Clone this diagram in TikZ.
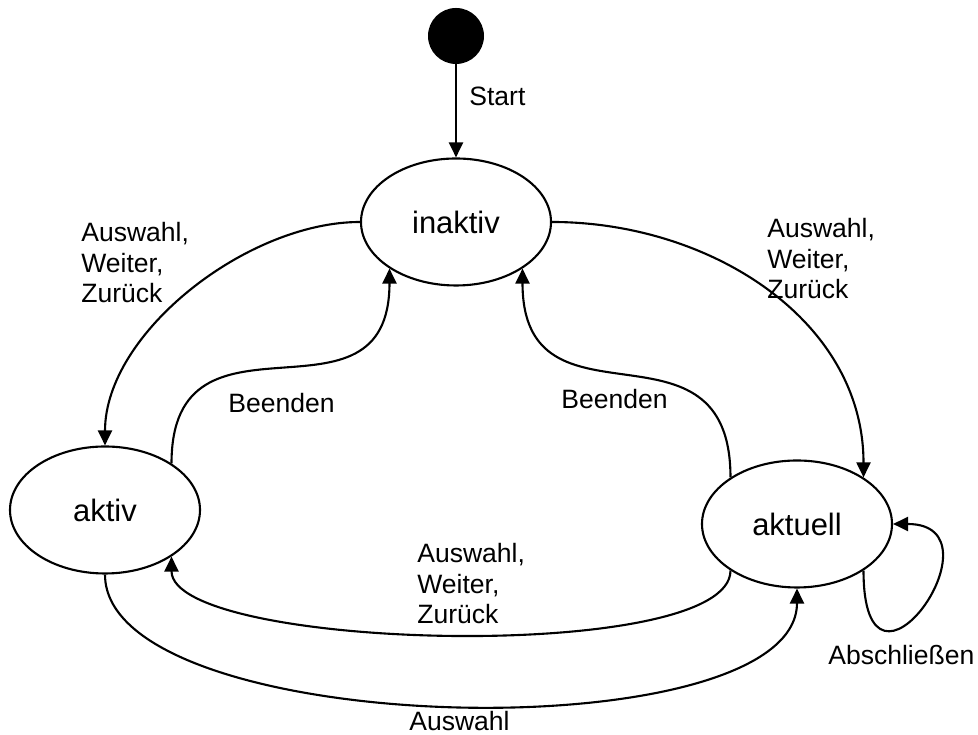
\documentclass[tikz,border=0pt]{standalone}
\usepackage{fontspec}
\setmainfont{Liberation Sans}
\usetikzlibrary{arrows.meta,shapes.geometric}
\begin{document}
\begin{tikzpicture}[
        state/.style = {ellipse, draw, line width=1.2pt, minimum width=3.8cm, minimum height=2.54cm, inner sep=0pt, font=\fontsize{17.6}{20}\selectfont},
        initial/.style = {circle, fill=black, inner sep=0pt, minimum size=1.12cm},
        txt/.style = {anchor=north west, inner sep=0pt, align=left, font=\fontsize{15.1}{17.4}\selectfont},
        trans/.style = {line width=1.2pt, -{Triangle[length=0.3cm,width=0.28cm]}}
    ]
        \useasboundingbox (0,0) rectangle (19.56,14.7);
        \node[initial] (start) at (9.12,13.98) {};
        \node[state] (inaktiv) at (9.12,10.26) {inaktiv};
        \node[state] (aktiv) at (2.10,4.50) {aktiv};
        \node[state] (aktuell) at (15.94,4.22) {aktuell};
        \draw[trans] (start) -- (inaktiv);
        \draw[trans] (inaktiv.180) to[out=180,in=90,looseness=0.85] (aktiv.90);
        \draw[trans] (inaktiv.0) to[out=0,in=90] (aktuell.35);
        \draw[trans] (aktiv.35) to[out=90,in=-90,looseness=1.5] (inaktiv.-145);
        \draw[trans] (aktuell.145) to[out=90,in=-90,looseness=1.5] (inaktiv.-35);
        \draw[trans] (aktuell.-145) to[out=-90,in=-90,looseness=0.43] (aktiv.-35);
        \draw[trans] (aktiv.-90) to[out=-90,in=-90,looseness=0.61] (aktuell.-90);
        \draw[trans] (aktuell.-35) .. controls +(0,-3.2) and +(2.3,0) .. (aktuell.0);
        \node[txt] (lstart) at (9.38,12.96) {Start};
        \node[txt] (lauswahlli) at (1.62,10.26) {Auswahl,\\Weiter,\\Zurück};
        \node[txt] (lauswahlre) at (15.34,10.34) {Auswahl,\\Weiter,\\Zurück};
        \node[txt] (lbeendenli) at (4.56,6.84) {Beenden};
        \node[txt] (lbeendenre) at (11.22,6.92) {Beenden};
        \node[txt] (lauswahlmi) at (8.34,3.84) {Auswahl,\\Weiter,\\Zurück};
        \node[txt] (lauswahlun) at (8.18,0.48) {Auswahl};
        \node[txt] (labschluss) at (16.56,1.80) {Abschließen};
    \end{tikzpicture}
\end{document}
